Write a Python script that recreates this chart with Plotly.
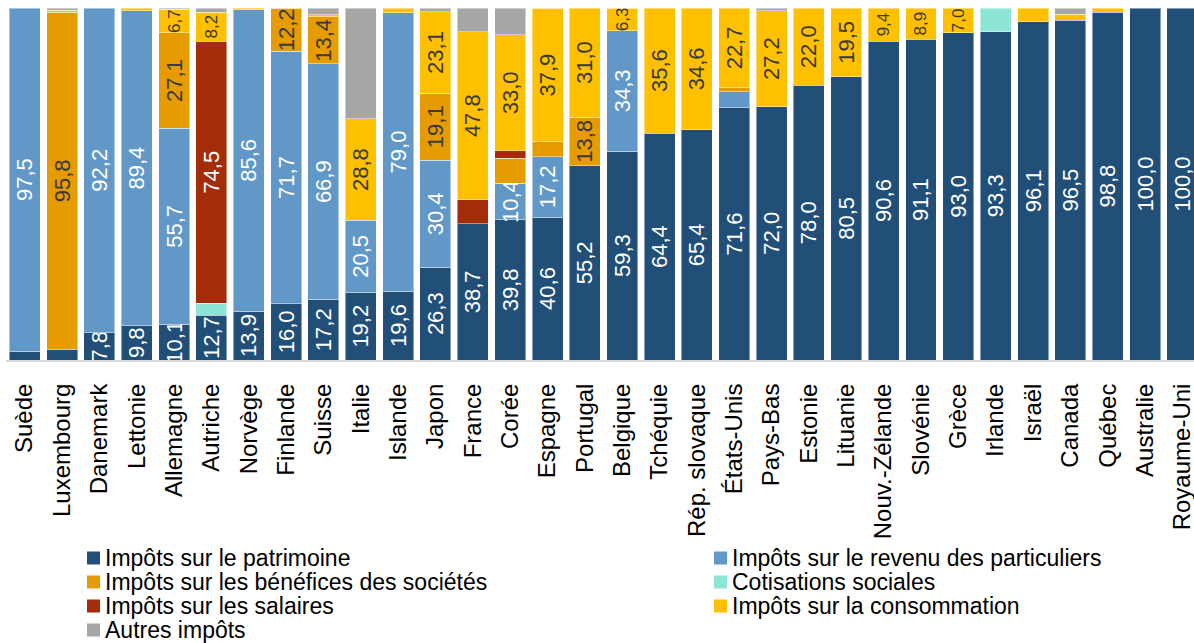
import plotly.graph_objects as go

# Countries, in display order
countries = [
    "Suède", "Luxembourg", "Danemark", "Lettonie", "Allemagne", "Autriche",
    "Norvège", "Finlande", "Suisse", "Italie", "Islande", "Japon", "France",
    "Corée", "Espagne", "Portugal", "Belgique", "Tchéquie", "Rép. slovaque",
    "États-Unis", "Pays-Bas", "Estonie", "Lituanie", "Nouv.-Zélande",
    "Slovénie", "Grèce", "Irlande", "Israël", "Canada", "Québec",
    "Australie", "Royaume-Uni",
]

# Share of each tax type (%), one list per series, stacked bottom to top
patrimoine = [2.5, 3.0, 7.8, 9.8, 10.1, 12.7, 13.9, 16.0, 17.2, 19.2, 19.6, 26.3,
              38.7, 39.8, 40.6, 55.2, 59.3, 64.4, 65.4, 71.6, 72.0, 78.0, 80.5,
              90.6, 91.1, 93.0, 93.3, 96.1, 96.5, 98.8, 100.0, 100.0]
revenu = [97.5, 0, 92.2, 89.4, 55.7, 0, 85.6, 71.7, 66.9, 20.5, 79.0, 30.4,
          0, 10.4, 17.2, 0, 34.3, 0, 0, 4.6, 0, 0, 0,
          0, 0, 0, 0, 0, 0, 0, 0, 0]
benefices = [0, 95.8, 0, 0, 27.1, 0, 0, 12.2, 13.4, 0, 0, 19.1,
             0, 7.1, 4.2, 13.8, 0, 0, 0, 1.1, 0, 0, 0,
             0, 0, 0, 0, 0, 0, 0, 0, 0]
cotisations = [0, 0, 0, 0, 0, 3.4, 0, 0, 0, 0, 0, 0,
               0, 0, 0, 0, 0, 0, 0, 0, 0, 0, 0,
               0, 0, 0, 6.7, 0, 0, 0, 0, 0]
salaires = [0, 0, 0, 0, 0, 74.5, 0, 0, 0, 0, 0, 0,
            6.8, 2.1, 0, 0, 0, 0, 0, 0, 0, 0, 0,
            0, 0, 0, 0, 0, 0, 0, 0, 0]
consommation = [0, 0.5, 0, 0.8, 6.7, 8.2, 0.5, 0.1, 0.6, 28.8, 1.4, 23.1,
                47.8, 33.0, 37.9, 31.0, 6.3, 35.6, 34.6, 22.7, 27.2, 22.0, 19.5,
                9.4, 8.9, 7.0, 0, 3.9, 1.7, 1.2, 0, 0]
autres = [0, 0.7, 0, 0, 0.4, 1.2, 0, 0, 1.9, 31.5, 0, 1.1,
          6.7, 7.6, 0.1, 0, 0.1, 0, 0, 0, 0.8, 0, 0,
          0, 0, 0, 0, 0, 1.8, 0, 0, 0]

series = [
    ("Impôts sur le patrimoine", patrimoine, "#214f78", "white", True),
    ("Impôts sur le revenu des particuliers", revenu, "#6298c8", "white", True),
    ("Impôts sur les bénéfices des sociétés", benefices, "#e69b00", "#3a3a3a", True),
    ("Cotisations sociales", cotisations, "#8de5d6", "#3a3a3a", False),
    ("Impôts sur les salaires", salaires, "#a52c08", "white", True),
    ("Impôts sur la consommation", consommation, "#ffc000", "#3a3a3a", True),
    ("Autres impôts", autres, "#a6a6a6", "#3a3a3a", False),
]

# Segments left without a value label
unlabelled = {("Impôts sur les salaires", "France"),
              ("Impôts sur les bénéfices des sociétés", "Corée")}
label_min = 6.0

FONT = "Liberation Sans, Arial, sans-serif"
LABEL_SIZE = 22
SMALL_LABEL_SIZE = 17
W, H = 1194, 643
ML, MR, MT, MB = 6, 0, 8, 283

fig = go.Figure()
for si, (name, vals, color, tcolor, labelled) in enumerate(series):
    ys = [v if v > 0 else None for v in vals]
    texts, sizes = [], []
    for c, v in zip(countries, vals):
        if labelled and v >= label_min and (name, c) not in unlabelled:
            texts.append(f"{v:.1f}".replace(".", ","))
        else:
            texts.append("")
        # short upper segments get a smaller label
        sizes.append(SMALL_LABEL_SIZE if (si > 0 and v < 10) else LABEL_SIZE)
    fig.add_trace(go.Bar(
        x=countries, y=ys, name=name, text=texts,
        textposition="inside", insidetextanchor="middle", textangle=-90,
        constraintext="none", cliponaxis=True,
        textfont=dict(family=FONT, size=sizes, color=tcolor),
        marker=dict(color=color, line=dict(color="rgba(255,255,255,0.45)", width=1)),
        showlegend=False, hoverinfo="x+y+name",
    ))

fig.update_layout(
    width=W, height=H, barmode="stack", bargap=0.17,
    margin=dict(l=ML, r=MR, t=MT, b=MB),
    paper_bgcolor="white", plot_bgcolor="white",
    font=dict(family=FONT, size=22, color="black"),
    xaxis=dict(range=[-0.5, 31.31], tickangle=-90, showline=True,
               linecolor="#d9d9d9", linewidth=2, ticks="outside", ticklen=12,
               tickcolor="rgba(0,0,0,0)", tickfont=dict(family=FONT, size=24),
               showgrid=False, fixedrange=True),
    yaxis=dict(range=[0, 100], visible=False, fixedrange=True),
)

# Legend in two columns, drawn below the axis labels
pw, ph = W - ML - MR, H - MT - MB


def px_x(px):
    return (px - ML) / pw


def px_y(py):
    return (H - MB - py) / ph


legend_cols = [
    [0, 2, 4, 6],  # left column
    [1, 3, 5],     # right column
]
col_left = [87, 714]
row_y = [558, 582, 606, 630]
for ci, idxs in enumerate(legend_cols):
    for ri, si in enumerate(idxs):
        name, _, color, _, _ = series[si]
        x0 = col_left[ci]
        yc = row_y[ri]
        fig.add_shape(type="rect", xref="paper", yref="paper",
                      x0=px_x(x0), x1=px_x(x0 + 13), y0=px_y(yc + 6.5), y1=px_y(yc - 6.5),
                      fillcolor=color, line=dict(width=0))
        fig.add_annotation(xref="paper", yref="paper", x=px_x(x0 + 16), y=px_y(yc),
                           xanchor="left", yanchor="middle", showarrow=False,
                           text=name, font=dict(family=FONT, size=23, color="black"))

fig.write_html("out.html")
